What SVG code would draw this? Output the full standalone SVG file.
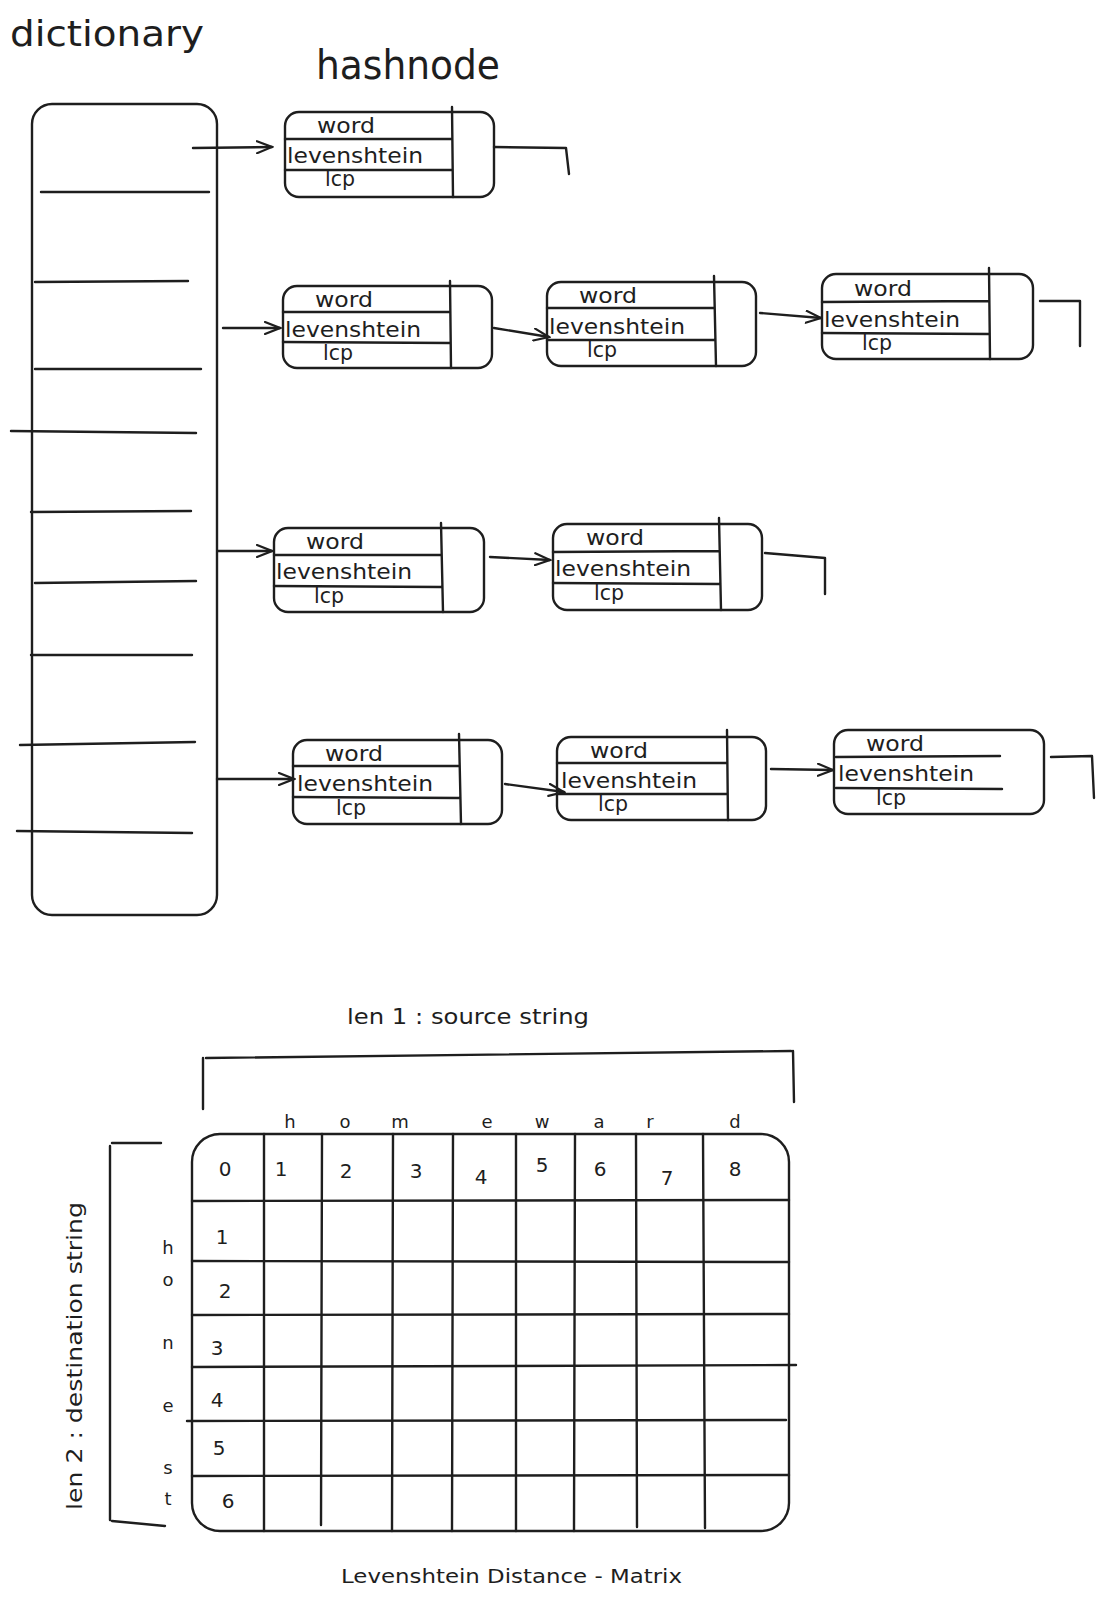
<svg xmlns="http://www.w3.org/2000/svg" width="1103" height="1600" viewBox="0 0 1103 1600">
<style>
.s{fill:none;stroke:#1e1e1e;stroke-width:2.4;stroke-linecap:round;stroke-linejoin:round}
.t{font-family:"DejaVu Sans","Liberation Sans",sans-serif;fill:#1e1e1e}
.nt{font-size:21px}
.big{font-size:36px}
.md{font-size:21px}
.num{font-size:20px;text-anchor:middle}
.lt{font-size:18px}
</style>
<defs>
<marker id="ah" markerWidth="18" markerHeight="14" refX="16" refY="7" orient="auto" markerUnits="userSpaceOnUse">
<path d="M1,1 L16,7 L1,13" fill="none" stroke="#1e1e1e" stroke-width="2.2" stroke-linecap="round"/>
</marker>
</defs>
<rect width="1103" height="1600" fill="#ffffff"/>

<text class="t big" x="10" y="46" textLength="194" lengthAdjust="spacingAndGlyphs">dictionary</text>
<text class="t big" x="316" y="79" textLength="184" lengthAdjust="spacingAndGlyphs" style="font-size:40px">hashnode</text>

<g id="dictionary">
<rect class="s" x="32" y="104" width="185" height="811" rx="20"/>
<path class="s" d="M41,192 L209,192 M35,282 L188,281 M35,369 L201,369 M11,431 L196,433 M31,512 L191,511 M35,583 L196,581 M31,655 L192,655 M20,745 L195,742 M17,831 L192,833"/>
</g>

<g id="node1">
<rect class="s" x="285" y="112" width="209" height="85" rx="14"/>
<path class="s" d="M452,107 L453,197 M285,139 L452,139 M285,170 L452,170"/>
<text class="t nt" x="317" y="133" textLength="58" lengthAdjust="spacingAndGlyphs">word</text>
<text class="t nt" x="287" y="163" textLength="136" lengthAdjust="spacingAndGlyphs">levenshtein</text>
<text class="t nt" x="325" y="186" textLength="30" lengthAdjust="spacingAndGlyphs">lcp</text>
</g>

<g id="node2a">
<rect class="s" x="283" y="286" width="209" height="82" rx="14"/>
<path class="s" d="M450,281 L451,368 M283,312 L450,312 M283,342 L450,343"/>
<text class="t nt" x="315" y="307" textLength="58" lengthAdjust="spacingAndGlyphs">word</text>
<text class="t nt" x="285" y="337" textLength="136" lengthAdjust="spacingAndGlyphs">levenshtein</text>
<text class="t nt" x="323" y="360" textLength="30" lengthAdjust="spacingAndGlyphs">lcp</text>
</g>

<g id="node2b">
<rect class="s" x="547" y="282" width="209" height="84" rx="14"/>
<path class="s" d="M714,276 L716,366 M547,308 L714,308 M547,340 L714,340"/>
<text class="t nt" x="579" y="303" textLength="58" lengthAdjust="spacingAndGlyphs">word</text>
<text class="t nt" x="549" y="334" textLength="136" lengthAdjust="spacingAndGlyphs">levenshtein</text>
<text class="t nt" x="587" y="357" textLength="30" lengthAdjust="spacingAndGlyphs">lcp</text>
</g>

<g id="node2c">
<rect class="s" x="822" y="274" width="211" height="85" rx="14"/>
<path class="s" d="M989,268 L990,359 M822,302 L989,301 M822,333 L989,334"/>
<text class="t nt" x="854" y="296" textLength="58" lengthAdjust="spacingAndGlyphs">word</text>
<text class="t nt" x="824" y="327" textLength="136" lengthAdjust="spacingAndGlyphs">levenshtein</text>
<text class="t nt" x="862" y="350" textLength="30" lengthAdjust="spacingAndGlyphs">lcp</text>
</g>

<g id="node3a">
<rect class="s" x="274" y="528" width="210" height="84" rx="14"/>
<path class="s" d="M441,523 L443,612 M274,555 L441,555 M274,586 L441,587"/>
<text class="t nt" x="306" y="549" textLength="58" lengthAdjust="spacingAndGlyphs">word</text>
<text class="t nt" x="276" y="579" textLength="136" lengthAdjust="spacingAndGlyphs">levenshtein</text>
<text class="t nt" x="314" y="603" textLength="30" lengthAdjust="spacingAndGlyphs">lcp</text>
</g>

<g id="node3b">
<rect class="s" x="553" y="524" width="209" height="86" rx="14"/>
<path class="s" d="M719,518 L721,610 M553,552 L719,551 M553,583 L719,584"/>
<text class="t nt" x="586" y="545" textLength="58" lengthAdjust="spacingAndGlyphs">word</text>
<text class="t nt" x="555" y="576" textLength="136" lengthAdjust="spacingAndGlyphs">levenshtein</text>
<text class="t nt" x="594" y="600" textLength="30" lengthAdjust="spacingAndGlyphs">lcp</text>
</g>

<g id="node4a">
<rect class="s" x="293" y="740" width="209" height="84" rx="14"/>
<path class="s" d="M459,734 L461,824 M293,766 L459,766 M293,797 L459,798"/>
<text class="t nt" x="325" y="761" textLength="58" lengthAdjust="spacingAndGlyphs">word</text>
<text class="t nt" x="297" y="791" textLength="136" lengthAdjust="spacingAndGlyphs">levenshtein</text>
<text class="t nt" x="336" y="815" textLength="30" lengthAdjust="spacingAndGlyphs">lcp</text>
</g>

<g id="node4b">
<rect class="s" x="557" y="737" width="209" height="83" rx="14"/>
<path class="s" d="M727,730 L728,820 M557,763 L727,763 M557,794 L727,794"/>
<text class="t nt" x="590" y="758" textLength="58" lengthAdjust="spacingAndGlyphs">word</text>
<text class="t nt" x="561" y="788" textLength="136" lengthAdjust="spacingAndGlyphs">levenshtein</text>
<text class="t nt" x="598" y="811" textLength="30" lengthAdjust="spacingAndGlyphs">lcp</text>
</g>

<g id="node4c">
<rect class="s" x="834" y="730" width="210" height="84" rx="14"/>
<path class="s" d="M836,757 L1000,756 M836,788 L1002,789"/>
<text class="t nt" x="866" y="751" textLength="58" lengthAdjust="spacingAndGlyphs">word</text>
<text class="t nt" x="838" y="781" textLength="136" lengthAdjust="spacingAndGlyphs">levenshtein</text>
<text class="t nt" x="876" y="805" textLength="30" lengthAdjust="spacingAndGlyphs">lcp</text>
</g>

<g id="connectors">
<path class="s" marker-end="url(#ah)" d="M193,148 L272,147"/>
<path class="s" marker-end="url(#ah)" d="M223,328 L280,328"/>
<path class="s" marker-end="url(#ah)" d="M494,328 L549,337"/>
<path class="s" marker-end="url(#ah)" d="M760,313 L821,318"/>
<path class="s" marker-end="url(#ah)" d="M218,551 L272,551"/>
<path class="s" marker-end="url(#ah)" d="M490,557 L550,560"/>
<path class="s" marker-end="url(#ah)" d="M217,779 L294,779"/>
<path class="s" marker-end="url(#ah)" d="M505,784 L564,792"/>
<path class="s" marker-end="url(#ah)" d="M771,769 L833,770"/>
<path class="s" d="M494,147 L566,148 L569,174"/>
<path class="s" d="M1040,301 L1080,301 L1080,346"/>
<path class="s" d="M765,553 L825,558 L825,594"/>
<path class="s" d="M1051,757 L1092,756 L1094,798"/>
</g>

<g id="matrix">
<text class="t md" x="347" y="1024" textLength="242" lengthAdjust="spacingAndGlyphs">len 1 : source string</text>
<path class="s" d="M206,1058 L791,1051 M203,1058 L203,1109 M793,1051 L794,1102"/>
<path class="s" d="M112,1143 L161,1143 M110,1146 L110,1520 M112,1521 L165,1526"/>
<text class="t md" transform="translate(82,1510) rotate(-90)" textLength="308" lengthAdjust="spacingAndGlyphs">len 2 : destination string</text>
<text class="t md" x="341" y="1583" textLength="341" lengthAdjust="spacingAndGlyphs" style="font-size:20px">Levenshtein Distance - Matrix</text>
<rect class="s" x="192" y="1134" width="597" height="397" rx="28"/>
<path class="s" d="M264,1134 L264,1531 M322,1134 L321,1525 M393,1134 L392,1531 M453,1134 L452,1531 M516,1134 L516,1531 M575,1134 L574,1531 M636,1134 L637,1527 M703,1134 L705,1528"/>
<path class="s" d="M192,1201 L789,1200 M192,1261 L789,1262 M192,1315 L789,1314 M192,1367 L796,1365 M187,1421 L786,1420 M192,1476 L789,1475"/>
<g class="t num">
<text class="lt" x="290" y="1128">h</text><text class="lt" x="345" y="1128">o</text><text class="lt" x="400" y="1128">m</text><text class="lt" x="487" y="1128">e</text><text class="lt" x="542" y="1128">w</text><text class="lt" x="599" y="1128">a</text><text class="lt" x="650" y="1128">r</text><text class="lt" x="735" y="1128">d</text>
<text x="225" y="1176">0</text><text x="281" y="1176">1</text><text x="346" y="1178">2</text><text x="416" y="1178">3</text><text x="481" y="1184">4</text><text x="542" y="1172">5</text><text x="600" y="1176">6</text><text x="667" y="1185">7</text><text x="735" y="1176">8</text>
<text x="222" y="1244">1</text><text x="225" y="1298">2</text><text x="217" y="1355">3</text><text x="217" y="1407">4</text><text x="219" y="1455">5</text><text x="228" y="1508">6</text>
<text class="lt" x="168" y="1254">h</text><text class="lt" x="168" y="1286">o</text><text class="lt" x="168" y="1349">n</text><text class="lt" x="168" y="1412">e</text><text class="lt" x="168" y="1474">s</text><text class="lt" x="168" y="1505">t</text>
</g>
</g>
</svg>
